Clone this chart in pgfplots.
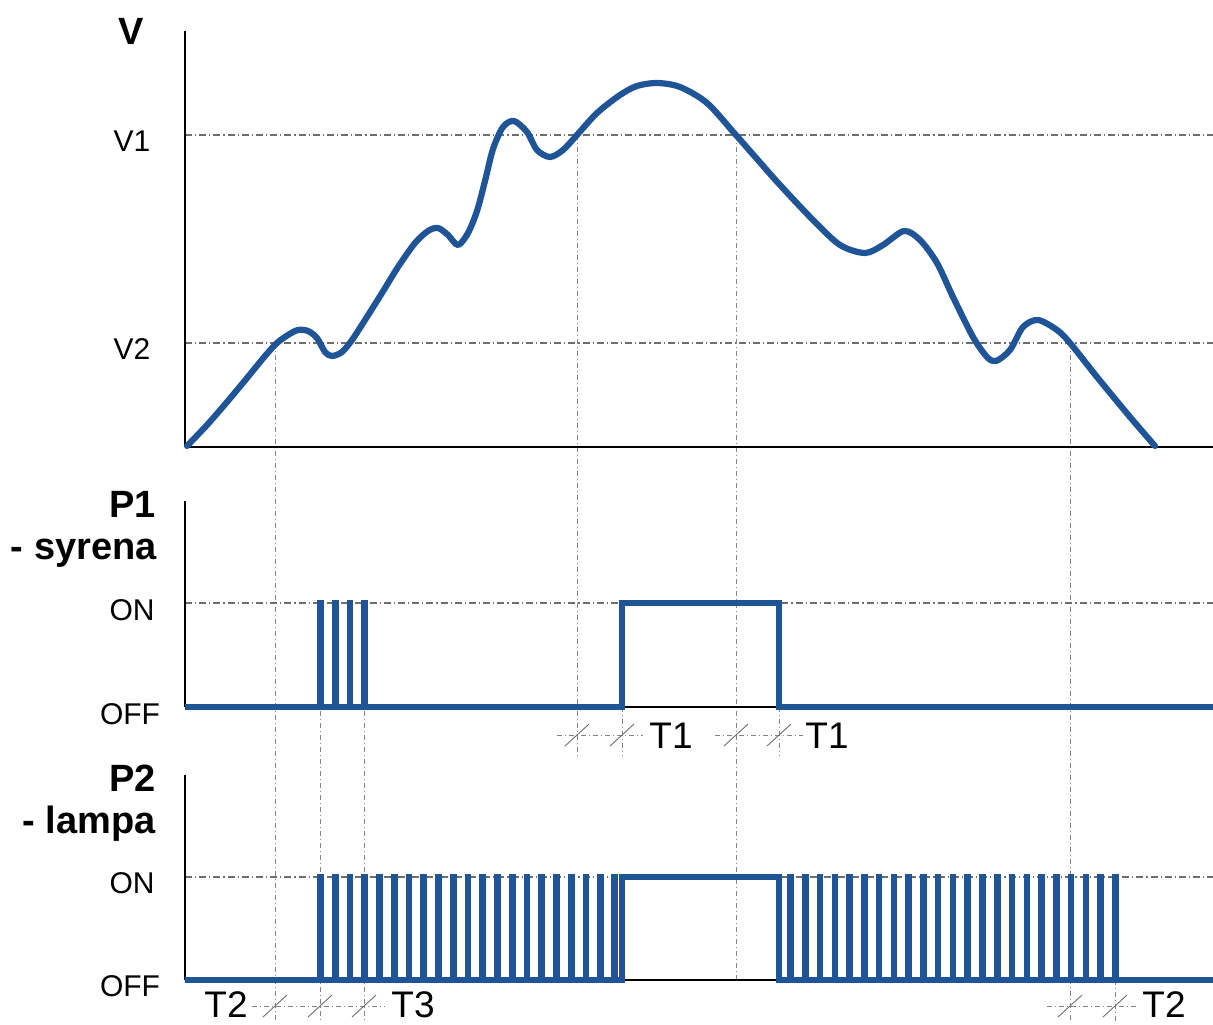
\documentclass[border=0pt]{standalone}
\usepackage{fontspec}
\setmainfont{Liberation Sans}
\usepackage{pgfplots}
\pgfplotsset{compat=1.18}

\definecolor{sigblue}{RGB}{31,84,150}
\definecolor{guide}{RGB}{110,110,110}

\pgfplotsset{
  timing/.style={
    anchor=south west, x=0.5pt, y=0.5pt,
    xmin=0, xmax=1028, ymin=0,
    axis x line=bottom, axis y line=left,
    axis line style={-, black, line width=1pt},
    xtick=\empty, yticklabels={}, major tick length=0pt,
    ymajorgrids,
    grid style={guide, line width=0.55pt, dash pattern=on 3.5pt off 1.5pt on 0.6pt off 1.5pt},
    clip=false,
  },
  sig/.style={sigblue, line width=2.7pt, mark=none, line join=miter},
}

\begin{document}
\begin{tikzpicture}
\useasboundingbox (0,0) rectangle (606.5pt,512pt);

% guides and labels, placed in pixel units of the 1213x1024 sheet
\begin{scope}[x=0.5pt, y=-0.5pt, yshift=512pt]
  \tikzset{
    vguide/.style={guide!85, line width=0.45pt, dash pattern=on 2.5pt off 1.5pt on 0.5pt off 1.5pt},
    slash/.style={guide, line width=0.45pt},
  }
  \draw[vguide] (275,343) -- (275,1022);
  \draw[vguide] (320,603) -- (320,1022);
  \draw[vguide] (364,603) -- (364,1022);
  \draw[vguide] (577,135) -- (577,756);
  \draw[vguide] (622,707) -- (622,756);
  \draw[vguide] (736,135) -- (736,980);
  \draw[vguide] (779,707) -- (779,756);
  \draw[vguide] (1070,343) -- (1070,1022);
  \draw[vguide] (1115,980) -- (1115,1022);
  % time spans
  \draw[vguide] (557,735) -- (643,735);
  \draw[vguide] (715,735) -- (803,735);
  \draw[vguide] (252,1006) -- (385,1006);
  \draw[vguide] (1047,1006) -- (1137,1006);
  \foreach \sx/\sy in {577/735,622/735,736/735,779/735,275/1006,320/1006,364/1006,1070/1006,1115/1006}
    \draw[slash] (\sx-12,\sy+11) -- (\sx+12,\sy-11);

  \node[anchor=base, font=\bfseries\fontsize{19}{21}\selectfont] at (131,45) {V};
  \node[anchor=base, font=\fontsize{15}{17}\selectfont] at (132,152) {V1};
  \node[anchor=base, font=\fontsize{15}{17}\selectfont] at (132,360) {V2};

  \node[anchor=base east, inner sep=0pt, font=\bfseries\fontsize{19}{21}\selectfont] at (156,517) {P1};
  \node[anchor=base east, inner sep=0pt, font=\bfseries\fontsize{19}{21}\selectfont] at (157,559) {- syrena};
  \node[anchor=base, font=\fontsize{15}{17}\selectfont] at (132,620) {ON};
  \node[anchor=base, font=\fontsize{15}{17}\selectfont] at (130,724) {OFF};

  \node[anchor=base east, inner sep=0pt, font=\bfseries\fontsize{19}{21}\selectfont] at (156,791) {P2};
  \node[anchor=base east, inner sep=0pt, font=\bfseries\fontsize{19}{21}\selectfont] at (156,833) {- lampa};
  \node[anchor=base, font=\fontsize{15}{17}\selectfont] at (132,893) {ON};
  \node[anchor=base, font=\fontsize{15}{17}\selectfont] at (130,996) {OFF};

  \node[anchor=base, font=\fontsize{18.5}{20}\selectfont] at (671,748) {T1};
  \node[anchor=base, font=\fontsize{18.5}{20}\selectfont] at (827,748) {T1};
  \node[anchor=base, font=\fontsize{18.5}{20}\selectfont] at (226,1017) {T2};
  \node[anchor=base, font=\fontsize{18.5}{20}\selectfont] at (413,1017) {T3};
  \node[anchor=base, font=\fontsize{18.5}{20}\selectfont] at (1164,1017) {T2};
\end{scope}

% V -- speed
\begin{axis}[timing, at={(92.5pt,288.5pt)}, ymax=416, ytick={104,312}]
  \addplot[sigblue, line width=3.1pt, smooth, line cap=round, line join=round] coordinates {
    (2,1) (22,22) (42,45) (62,69) (80,91) (92,104) (103,112) (113,117)
    (123,116) (132,109) (140,95) (147,91) (157,95) (167,107) (180,127)
    (197,154) (213,180) (230,204) (243,216) (253,219) (263,212) (273,202)
    (283,214) (292,236) (300,266) (308,298) (318,320) (329,326) (342,315)
    (352,297) (365,290) (378,297) (392,312) (412,334) (435,352) (452,361)
    (472,364) (495,360) (522,344) (550,313) (572,288) (595,262) (628,227)
    (655,202) (680,194) (698,202) (719,216) (735,207) (752,184) (768,150)
    (788,110) (802,90) (811,86) (825,97) (838,120) (853,127) (872,117)
    (885,104) (912,70) (945,30) (970,1)
  };
\end{axis}

% P1 -- syrena
\begin{axis}[timing, at={(92.5pt,158.5pt)}, ymax=206, ytick={104}]
  \addplot[sig] coordinates {
    (0,0) (135,0) (135,104) (136,104) (136,0)
    (150,0) (150,104) (151,104) (151,0)
    (164.5,0) (164.5,104) (165.5,104) (165.5,0)
    (179,0) (179,104) (180,104) (180,0)
    (437,0) (437,104) (594,104) (594,0) (1028,0)
  };
\end{axis}

% P2 -- lampa
\begin{axis}[timing, at={(92.5pt,22pt)}, ymax=205, ytick={103}]
  \addplot[sig] coordinates {
    (0,0)
    (135,0) (135,103) (136,103) (136,0)
    (150,0) (150,103) (151,103) (151,0)
    (164.5,0) (164.5,103) (165.5,103) (165.5,0)
    (179,0) (179,103) (180,103) (180,0)
    (194,0) (194,103) (195,103) (195,0)
    (209,0) (209,103) (210,103) (210,0)
    (223.5,0) (223.5,103) (224.5,103) (224.5,0)
    (238,0) (238,103) (239,103) (239,0)
    (253,0) (253,103) (254,103) (254,0)
    (268,0) (268,103) (269,103) (269,0)
    (282.5,0) (282.5,103) (283.5,103) (283.5,0)
    (297,0) (297,103) (298,103) (298,0)
    (312,0) (312,103) (313,103) (313,0)
    (327,0) (327,103) (328,103) (328,0)
    (341.5,0) (341.5,103) (342.5,103) (342.5,0)
    (356,0) (356,103) (357,103) (357,0)
    (371,0) (371,103) (372,103) (372,0)
    (386,0) (386,103) (387,103) (387,0)
    (400.5,0) (400.5,103) (401.5,103) (401.5,0)
    (415,0) (415,103) (416,103) (416,0)
    (429,0) (429,103) (430,103) (430,0)
    (437,0) (437,103) (594,103) (594,0)
    (605,0) (605,103) (606,103) (606,0)
    (620,0) (620,103) (621,103) (621,0)
    (634.5,0) (634.5,103) (635.5,103) (635.5,0)
    (649.5,0) (649.5,103) (650.5,103) (650.5,0)
    (664,0) (664,103) (665,103) (665,0)
    (679,0) (679,103) (680,103) (680,0)
    (693.5,0) (693.5,103) (694.5,103) (694.5,0)
    (708.5,0) (708.5,103) (709.5,103) (709.5,0)
    (723,0) (723,103) (724,103) (724,0)
    (738,0) (738,103) (739,103) (739,0)
    (752.5,0) (752.5,103) (753.5,103) (753.5,0)
    (767.5,0) (767.5,103) (768.5,103) (768.5,0)
    (782,0) (782,103) (783,103) (783,0)
    (797,0) (797,103) (798,103) (798,0)
    (812,0) (812,103) (813,103) (813,0)
    (826.5,0) (826.5,103) (827.5,103) (827.5,0)
    (841.5,0) (841.5,103) (842.5,103) (842.5,0)
    (856,0) (856,103) (857,103) (857,0)
    (871,0) (871,103) (872,103) (872,0)
    (885.5,0) (885.5,103) (886.5,103) (886.5,0)
    (900.5,0) (900.5,103) (901.5,103) (901.5,0)
    (915,0) (915,103) (916,103) (916,0)
    (930,0) (930,103) (931,103) (931,0)
    (1028,0)
  };
\end{axis}
\end{tikzpicture}
\end{document}
